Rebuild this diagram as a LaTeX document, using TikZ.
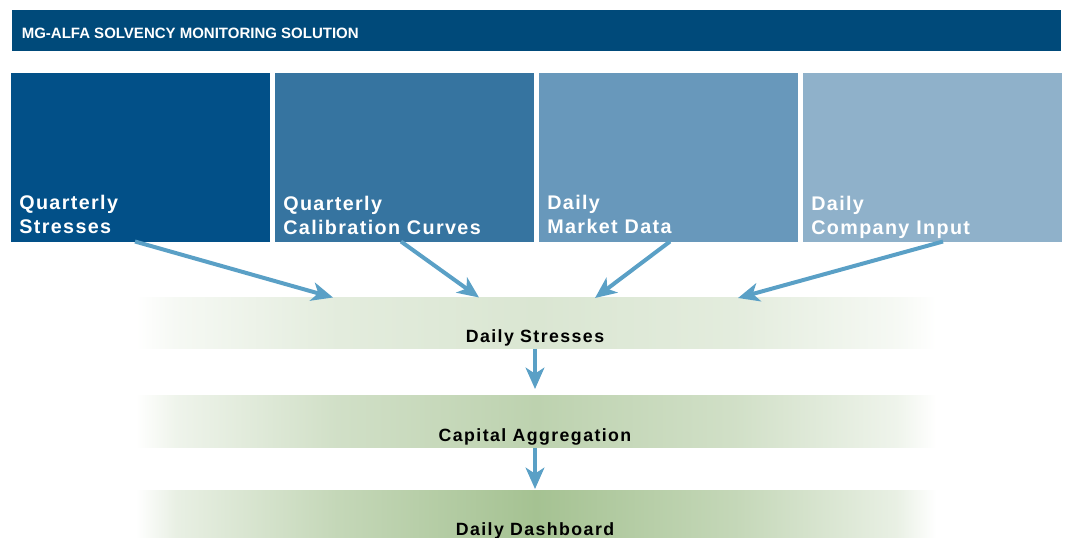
\documentclass[tikz,border=0pt]{standalone}
\usepackage{fontspec}
\setmainfont{Liberation Sans}
\newfontfamily\hdfont{Liberation Sans}
\newfontfamily\boxfont{Liberation Sans}[LetterSpace=7]
\newfontfamily\bandfont{Liberation Sans}[LetterSpace=8]
\usetikzlibrary{arrows.meta,calc}
\definecolor{hdblue}{HTML}{004A7A}
\definecolor{boxA}{HTML}{025088}
\definecolor{boxB}{HTML}{3674A0}
\definecolor{boxC}{HTML}{6898BB}
\definecolor{boxD}{HTML}{8FB1CA}
\definecolor{arrblue}{HTML}{5AA0C6}
\definecolor{gA}{HTML}{DAE6D2}
\definecolor{gB}{HTML}{BDD2AF}
\definecolor{gC}{HTML}{A5C292}
\colorlet{gAa}{gA!25!white}\colorlet{gAb}{gA!75!white}
\colorlet{gBa}{gB!25!white}\colorlet{gBb}{gB!70!white}
\colorlet{gCa}{gC!25!white}\colorlet{gCb}{gC!65!white}
% TikZ maps the path onto 25bp..75bp of the shading
\pgfdeclarehorizontalshading{bandshA}{100bp}{color(0bp)=(white); color(25bp)=(white); color(27.5bp)=(gAa); color(37.5bp)=(gAb); color(50bp)=(gA); color(62.5bp)=(gAb); color(72.5bp)=(gAa); color(75bp)=(white); color(100bp)=(white)}
\pgfdeclarehorizontalshading{bandshB}{100bp}{color(0bp)=(white); color(25bp)=(white); color(27.5bp)=(gBa); color(37.5bp)=(gBb); color(50bp)=(gB); color(62.5bp)=(gBb); color(72.5bp)=(gBa); color(75bp)=(white); color(100bp)=(white)}
\pgfdeclarehorizontalshading{bandshC}{100bp}{color(0bp)=(white); color(25bp)=(white); color(27.5bp)=(gCa); color(37.5bp)=(gCb); color(50bp)=(gC); color(62.5bp)=(gCb); color(72.5bp)=(gCa); color(75bp)=(white); color(100bp)=(white)}
\begin{document}
\begin{tikzpicture}[x=0.75pt,y=-0.75pt,
  inbox/.style={draw=none,fill=#1,minimum width=194.25pt,minimum height=126.3pt,inner sep=0pt,outer sep=0pt},
  boxtext/.style={anchor=base west,inner sep=0pt,text=white,align=left,font=\boxfont\bfseries\fontsize{14.8pt}{18pt}\selectfont},
  band/.style={draw=none,shading=#1,minimum width=600pt,inner sep=0pt,outer sep=0pt},
  bandtext/.style={anchor=base,inner sep=0pt,text=black,font=\bandfont\bfseries\fontsize{13.3pt}{16pt}\selectfont},
  arr/.style={draw=arrblue,line width=3pt,-{Stealth[length=16pt,width=14pt,inset=4.5pt]}}]
\useasboundingbox (0,0) rectangle (1065,538);
% header
\node[fill=hdblue,minimum width=786.75pt,minimum height=30.5pt,inner sep=0pt] (hdr) at (536.5,30.35) {};
\node[anchor=base west,inner sep=0pt,text=white,font=\hdfont\bfseries\fontsize{11.25pt}{13pt}\selectfont] (hdrtxt) at (21.5,38.3) {MG-ALFA SOLVENCY MONITORING SOLUTION};
% input boxes
\node[inbox=boxA] (b1) at (140.5,157.4) {};
\node[inbox=boxB] (b2) at (404.5,157.4) {};
\node[inbox=boxC] (b3) at (668.5,157.4) {};
\node[inbox=boxD] (b4) at (932.5,157.4) {};
\node[boxtext] (t1) at (19,234) {Quarterly\\Stresses};
\node[boxtext] (t2) at (283,235) {Quarterly\\Calibration Curves};
\node[boxtext] (t3) at (547,234) {Daily\\Market Data};
\node[boxtext] (t4) at (811,235) {Daily\\Company Input};
% bands
\node[band=bandshA,minimum height=38.25pt] (s1) at (536,323.5) {};
\node[band=bandshB,minimum height=39pt] (s2) at (536,422) {};
\node[band=bandshC,minimum height=40.5pt] (s3) at (536,518) {};
\node[bandtext] (l1) at (535,342.7) {Daily Stresses};
\node[bandtext] (l2) at (535,441.5) {Capital Aggregation};
\node[bandtext] (l3) at (535,536) {Daily Dashboard};
% arrow end points
\coordinate (a1s) at (135,241.5);
\coordinate (a1e) at (333,297.5);
\coordinate (a2s) at (401,241.5);
\coordinate (a2e) at (479,297.5);
\coordinate (a3s) at (670,241.5);
\coordinate (a3e) at (595,298);
\coordinate (a4s) at (943,241.5);
\coordinate (a4e) at (738,298);
\coordinate (v1e) at (535,389);
\coordinate (v2e) at (535,489);
\draw[arr] (a1s) -- (a1e);
\draw[arr] (a2s) -- (a2e);
\draw[arr] (a3s) -- (a3e);
\draw[arr] (a4s) -- (a4e);
\draw[arr] (l1.south |- s1.south) -- (v1e);
\draw[arr] (l2.south |- s2.south) -- (v2e);
\end{tikzpicture}
\end{document}
